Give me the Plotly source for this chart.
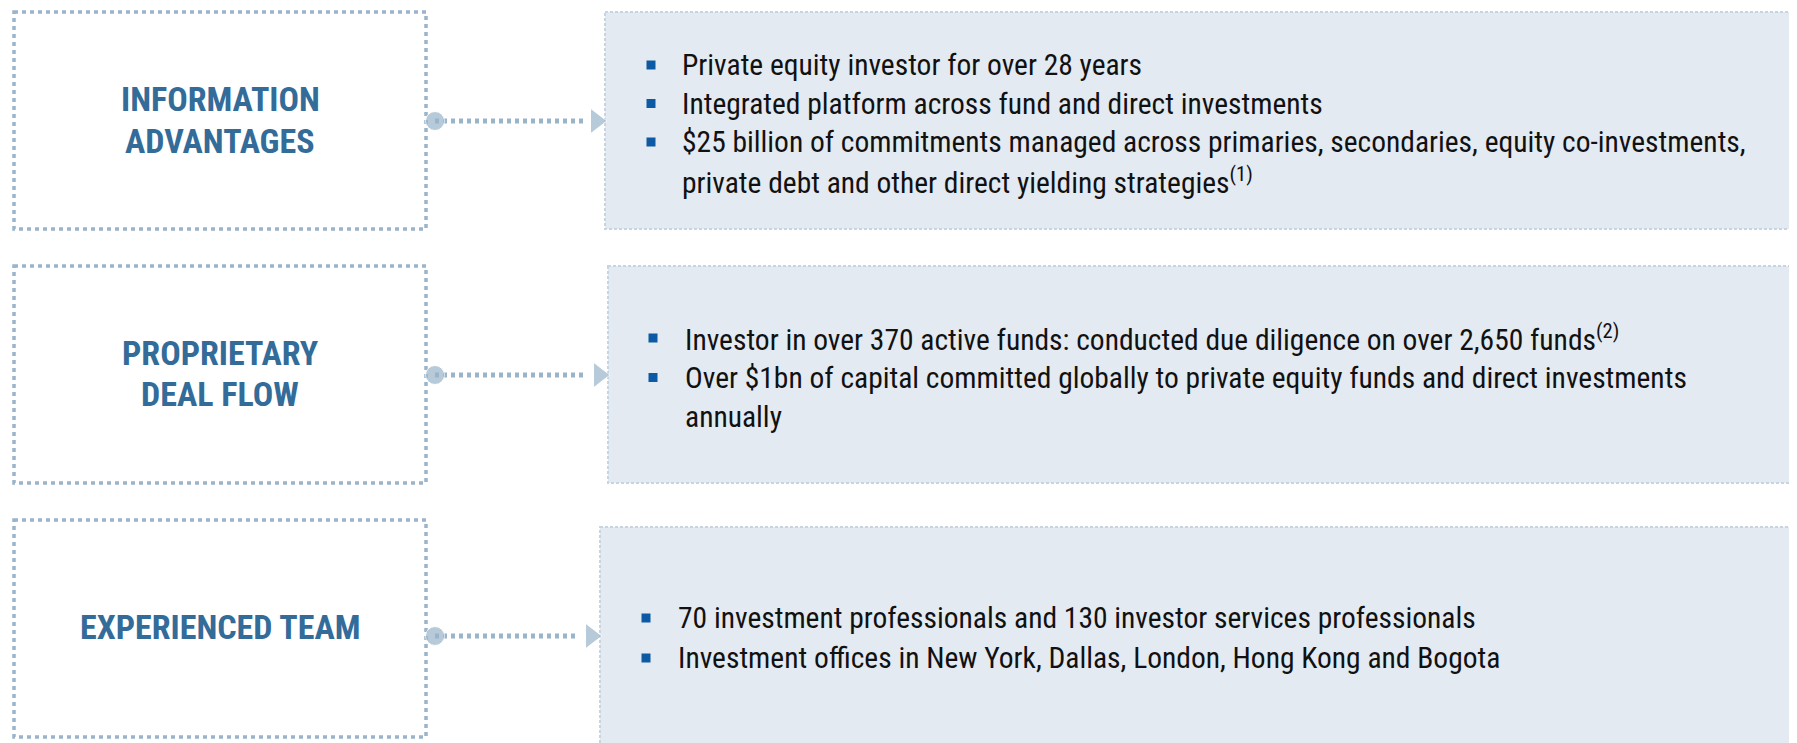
import plotly.graph_objects as go

## content of the three rows
titles = [
    ["INFORMATION", "ADVANTAGES"],
    ["PROPRIETARY", "DEAL FLOW"],
    ["EXPERIENCED TEAM"],
]

bullets = [
    [
        ["Private equity investor for over 28 years"],
        ["Integrated platform across fund and direct investments"],
        ["$25 billion of commitments managed across primaries, secondaries, equity co-investments,",
         "private debt and other direct yielding strategies<sup>(1)</sup>"],
    ],
    [
        ["Investor in over 370 active funds: conducted due diligence on over 2,650 funds<sup>(2)</sup>"],
        ["Over $1bn of capital committed globally to private equity funds and direct investments",
         "annually"],
    ],
    [
        ["70 investment professionals and 130 investor services professionals"],
        ["Investment offices in New York, Dallas, London, Hong Kong and Bogota"],
    ],
]

## page geometry (pixels, y pointing down)
W, H = 1797, 743
PAD = 8  # body margin of the html page
left_boxes = [(14, 426, 12, 229), (14, 426, 266, 483), (14, 426, 520, 737)]
right_boxes = [(605, 1795, 12, 229), (608, 1795, 266, 483), (600, 1795, 527, 770)]
link_y = [121, 375, 636]
title_y = [(99, 141), (353, 394), (627,)]
first_line_y = [65, 338, 618]
line_step = [38.5, 39.5, 40]
bullet_x = [651, 653, 646]
text_x = [680, 683, 676]

TITLE_BLUE = "#336b99"
DOT_BLUE = "#9ab4ca"
FILL = "#e4eaf1"
EDGE = "#c8d5e1"
BULLET = "#0b5aa3"
NARROW = "Liberation Sans Narrow, Arial Narrow, Roboto Condensed, Liberation Sans, sans-serif"

fig = go.Figure()

for i in range(3):
    x0, x1, y0, y1 = left_boxes[i]
    fig.add_shape(type="rect", x0=x0, x1=x1, y0=y0, y1=y1, layer="below",
                  line=dict(color=DOT_BLUE, width=3.5, dash="4px,4px"), fillcolor="white")
    rx0, rx1, ry0, ry1 = right_boxes[i]
    fig.add_shape(type="rect", x0=rx0, x1=rx1, y0=ry0, y1=ry1, layer="below",
                  line=dict(color=EDGE, width=2, dash="3px,2px"), fillcolor=FILL)

    # connector: circle on left box edge, dotted line, arrowhead at right box
    fig.add_trace(go.Scatter(
        x=[x1 + 9, rx0 - 22], y=[link_y[i], link_y[i]], mode="lines",
        line=dict(color=DOT_BLUE, width=5, dash="4px,4px"),
        hoverinfo="skip", showlegend=False))
    fig.add_trace(go.Scatter(
        x=[x1 + 9, rx0 - 9], y=[link_y[i], link_y[i]], mode="markers",
        marker=dict(symbol=["circle", "triangle-right"], size=[19, 22], color=DOT_BLUE),
        hoverinfo="skip", showlegend=False))

    # title text
    cx = (x0 + x1) / 2
    for t, ty in zip(titles[i], title_y[i]):
        fig.add_annotation(x=cx, y=ty, text="<b>" + t + "</b>", showarrow=False,
                           xanchor="center", yanchor="middle",
                           font=dict(family=NARROW, size=34, color=TITLE_BLUE))

    # bullet lines
    y = first_line_y[i]
    bx, by = [], []
    for item in bullets[i]:
        bx.append(bullet_x[i])
        by.append(y)
        for line in item:
            fig.add_annotation(x=text_x[i], y=y, text=line, showarrow=False,
                               xanchor="left", yanchor="middle",
                               font=dict(family=NARROW, size=29.5, color="#111111"))
            y += line_step[i]
    fig.add_trace(go.Scatter(x=bx, y=by, mode="markers",
                             marker=dict(symbol="square", size=9, color=BULLET),
                             hoverinfo="skip", showlegend=False))

# shift the ranges so page pixels line up with the numbers above
fig.update_xaxes(range=[PAD, W + PAD], visible=False, fixedrange=True)
fig.update_yaxes(range=[H + PAD, PAD], visible=False, fixedrange=True)
fig.update_layout(width=W, height=H, margin=dict(l=0, r=0, t=0, b=0),
                  plot_bgcolor="white", paper_bgcolor="white")

fig.write_html("out.html")
